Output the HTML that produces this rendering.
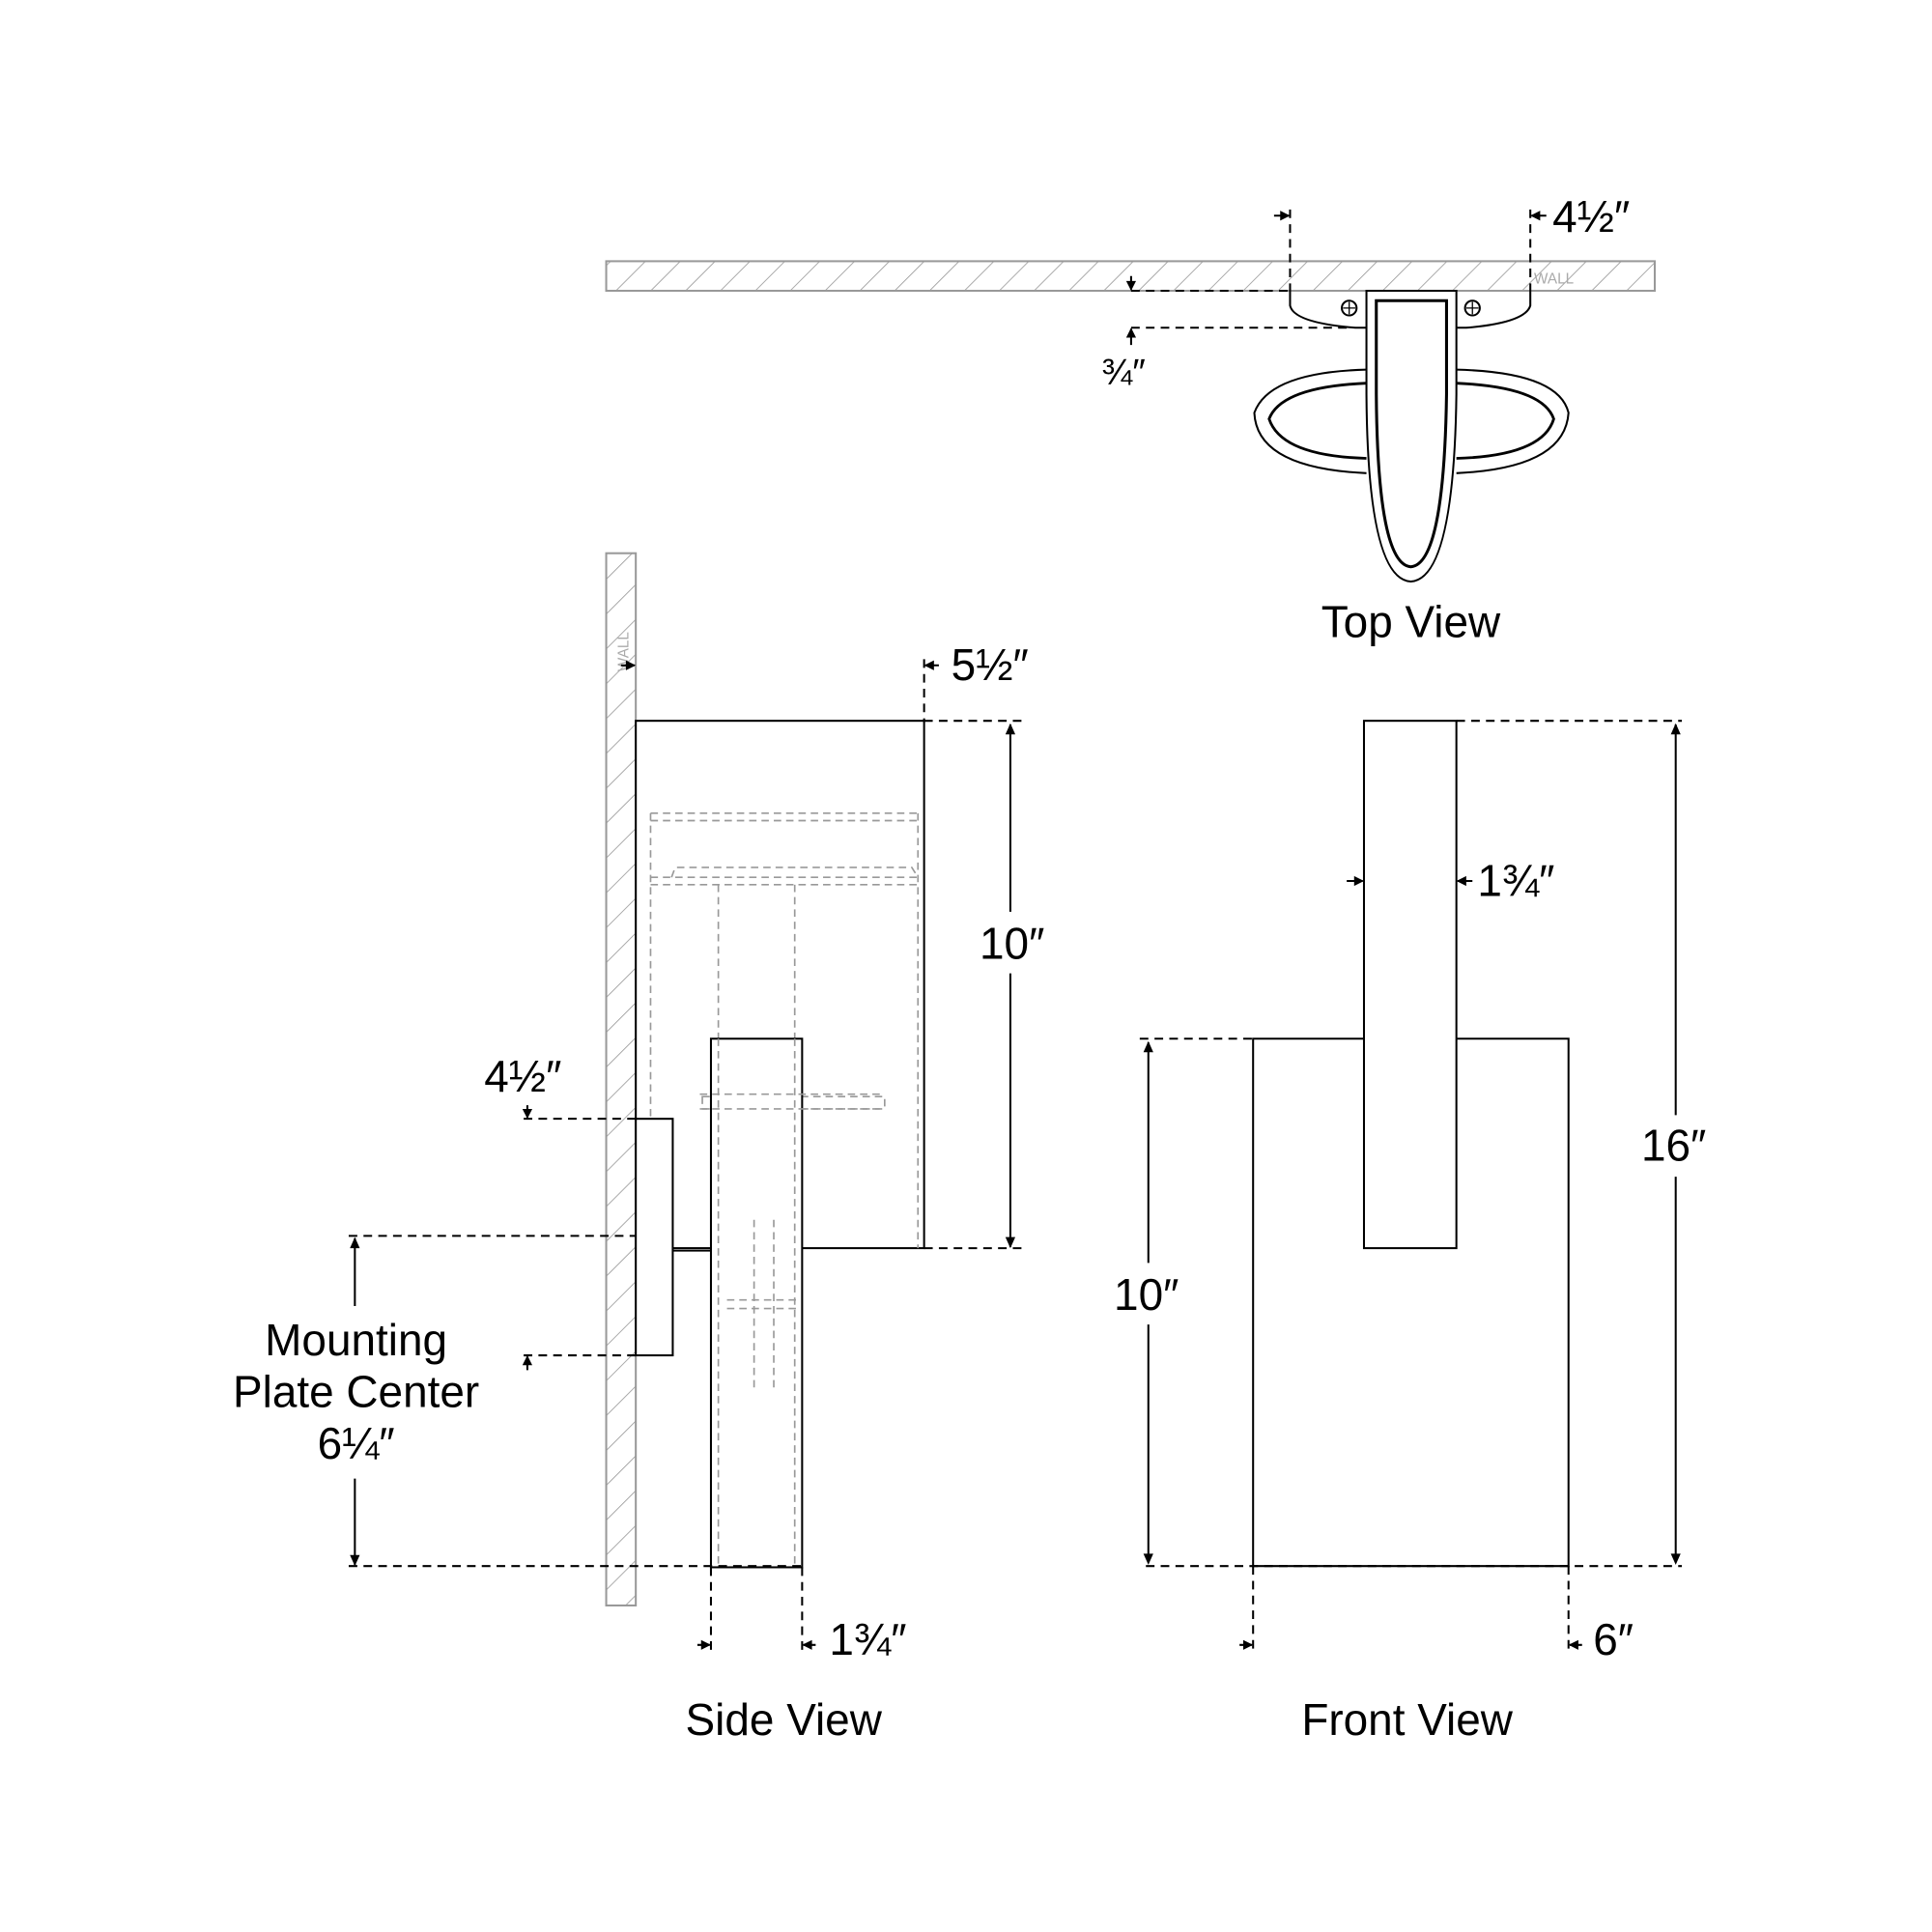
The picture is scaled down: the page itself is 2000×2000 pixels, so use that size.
<!DOCTYPE html>
<html><head><style>html,body{margin:0;padding:0;background:#fff}svg{display:block}</style></head>
<body>
<svg width="2000" height="2000" viewBox="0 0 1568 1568" xmlns="http://www.w3.org/2000/svg" font-family="Liberation Sans, sans-serif">
<defs>
<pattern id="h" width="20" height="20" patternUnits="userSpaceOnUse" patternTransform="rotate(45)">
<line x1="0" y1="0" x2="0" y2="20" stroke="#999" stroke-width="1.3"/></pattern>
</defs>
<g fill="none" stroke="#000" stroke-width="1.6">
<!-- TOP VIEW -->
<rect x="492" y="212" width="851" height="24" fill="url(#h)" stroke="#999"/>
<text x="1245" y="230" font-size="12" fill="#aaa" stroke="none">WALL</text>
<path d="M1047,236 V248 Q1050,262 1100,266 L1109,266 M1182,266 L1190,266 Q1238,262 1242,248 V236" />
<circle cx="1095" cy="250" r="6"/><circle cx="1195" cy="250" r="6"/>
<path d="M1095,245v10M1090,250h10M1195,245v10M1190,250h10" stroke-width="1"/>
<path d="M1109,300 Q1030,302 1018,335 Q1020,380 1109,384 M1182,300 Q1265,302 1273,335 Q1270,380 1182,384"/>
<path d="M1109,311 Q1040,314 1030,340 Q1040,370 1109,372 M1182,311 Q1252,314 1261,340 Q1252,370 1182,372" stroke-width="2.2"/>
<path d="M1109,236 V320 Q1110,470 1145,472 Q1180,470 1182,320 V236 Z"/>
<path d="M1117,244 H1174 V320 Q1172,458 1145,460 Q1118,458 1117,320 Z" stroke-width="2.4"/>
<g stroke-dasharray="7,5"><path d="M1047,170V236M1242,170V236M918,236H1047M918,266H1098"/></g>
<path d="M1034,175H1046M1255,175H1243M918,224V235M918,280V267"/>
<!-- SIDE VIEW -->
<rect x="492" y="449" width="24" height="854" fill="url(#h)" stroke="#999"/>
<text x="0" y="0" font-size="12" fill="#aaa" stroke="none" transform="translate(510,545) rotate(-90)">WALL</text>
<rect x="516" y="585" width="234" height="428" fill="#fff"/>
<g stroke="#999" stroke-dasharray="6,4" stroke-width="1.3">
<path d="M528,660V1013M745,660V1013M528,660H745M528,666H745M528,712H745M528,718H745M583,718V1013M645,718V1013"/>
<path d="M545,712 L548,704 H740 L745,712 M570,890 H718 V900 H570Z"/>
</g>
<rect x="577" y="843" width="74" height="429" fill="#fff"/>
<g stroke="#999" stroke-dasharray="6,4" stroke-width="1.3"><path d="M583,843V1272M645,843V1272M568,888H718M568,900H718M612,990V1130M628,990V1130M590,1055H648M590,1062H648"/></g>
<rect x="516" y="908" width="30" height="192" fill="#fff"/>
<path d="M546,1015H577"/>
<g stroke-dasharray="7,5">
<path d="M750,535V585M750,585H830M750,1013H830M425,908H516M425,1100H516M283,1003H516M283,1271H651M577,1272V1340M651,1272V1340"/>
</g>
<path d="M504,540H515M762,540H751M566,1335H576M662,1335H652"/>
<path d="M820,740V588M820,790V1012M288,1060V1005M288,1200V1270M428,897V907M428,1112V1101"/>
<!-- FRONT VIEW -->
<path d="M1107,843H1017V1271H1273V843H1182"/>
<rect x="1107" y="585" width="75" height="428" fill="#fff"/>
<g stroke-dasharray="7,5"><path d="M1182,585H1365M930,1271H1365M925,843H1017M1017,1271V1340M1273,1271V1340"/></g>
<path d="M1360,905V588M1360,955V1268M932,1025V846M932,1075V1268M1093,715H1106M1195,715H1183M1006,1335H1016M1284,1335H1274"/>
</g>
<g fill="#000">
<!-- arrowheads -->
<path d="M1047,175l-8,-4v8z M1242,175l8,-4v8z M918,236l-4,-8h8z M918,266l-4,8h8z"/>
<path d="M516,540l-8,-4v8z M750,540l8,-4v8z M577,1335l-8,-4v8z M651,1335l8,-4v8z"/>
<path d="M820,587l-4,9h8z M820,1013l-4,-9h8z M288,1004l-4,9h8z M288,1271l-4,-9h8z M428,908l-4,-8h8z M428,1100l-4,8h8z"/>
<path d="M1360,587l-4,9h8z M1360,1270l-4,-9h8z M932,845l-4,9h8z M932,1270l-4,-9h8z"/>
<path d="M1107,715l-8,-4v8z M1182,715l8,-4v8z M1017,1335l-8,-4v8z M1273,1335l8,-4v8z"/>
</g>
<g font-size="36" fill="#000">
<text x="1260" y="188">4½″</text>
<text x="894" y="312" font-size="30">¾″</text>
<text x="1145" y="517" text-anchor="middle">Top View</text>
<text x="772" y="552">5½″</text>
<text x="795" y="778">10″</text>
<text x="393" y="886">4½″</text>
<text x="289" y="1100" text-anchor="middle">Mounting</text>
<text x="289" y="1142" text-anchor="middle">Plate Center</text>
<text x="289" y="1184" text-anchor="middle">6¼″</text>
<text x="673" y="1343">1¾″</text>
<text x="636" y="1408" text-anchor="middle">Side View</text>
<text x="1199" y="727">1¾″</text>
<text x="1332" y="942">16″</text>
<text x="904" y="1063">10″</text>
<text x="1293" y="1343">6″</text>
<text x="1142" y="1408" text-anchor="middle">Front View</text>
</g>
</svg>
</body></html>
